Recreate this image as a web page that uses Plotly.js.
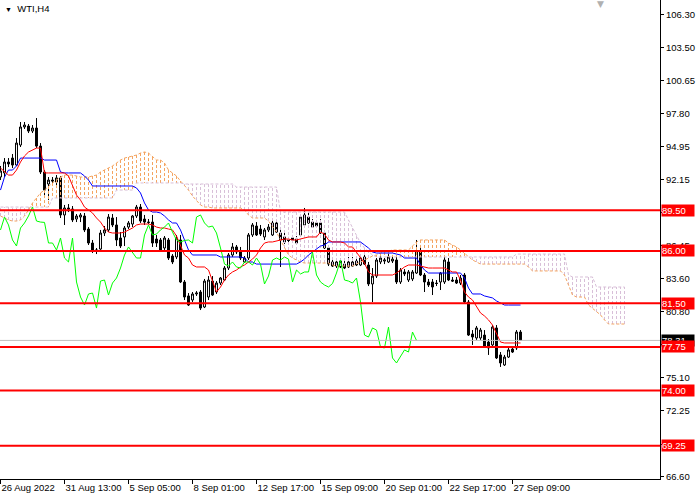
<!DOCTYPE html>
<html><head><meta charset="utf-8">
<script src="https://cdn.plot.ly/plotly-3.0.1.min.js"></script>
<style>html,body{margin:0;padding:0;background:#fff}#chart{width:700px;height:500px}</style>
</head><body><div id="chart"></div>
<script>
const open = [92.35,92.70,93.64,93.98,93.38,95.10,96.65,96.73,96.30,96.56,
95.01,92.78,91.75,92.09,91.92,92.27,89.09,89.69,89.60,88.74,
88.91,89.00,87.88,86.68,85.99,86.16,87.54,87.80,88.83,88.23,
87.11,87.20,88.05,88.31,89.00,89.77,88.74,88.48,88.48,87.02,
86.94,86.25,86.94,85.56,85.48,86.94,83.33,82.13,81.78,82.30,
82.47,81.18,82.04,83.41,82.47,83.24,83.50,84.53,85.65,86.34,
85.99,85.05,85.39,87.37,88.14,87.88,87.20,87.80,87.37,88.40,
87.54,87.20,86.94,87.11,87.02,87.37,88.23,88.91,88.48,88.40,
88.40,87.54,86.25,85.05,84.70,85.13,84.87,84.62,84.70,85.13,
84.79,85.48,84.79,83.16,83.84,85.05,85.13,85.05,85.13,85.22,
83.33,84.19,83.50,83.59,84.10,85.91,83.93,83.33,83.33,83.24,
83.33,83.33,85.05,83.50,83.50,83.24,83.93,81.61,78.86,78.52,
78.52,78.77,78.17,77.92,79.38,77.06,76.20,76.88,77.57,77.66,79.03];
const high = [93.30,93.98,93.98,94.33,95.70,97.08,97.08,96.91,96.82,97.42,
95.27,92.95,92.35,92.35,92.52,92.44,89.95,90.03,89.86,89.17,
89.26,89.26,88.05,86.94,86.25,87.80,88.14,89.17,89.17,88.91,
87.62,88.14,88.57,89.09,89.95,90.03,89.09,88.74,89.09,87.37,
87.11,87.28,87.11,85.73,87.37,87.37,83.50,82.38,82.47,82.55,
82.64,83.59,83.84,83.84,83.41,83.76,84.70,85.82,86.68,86.51,
86.34,85.56,87.54,88.40,88.48,88.23,87.97,88.31,88.66,88.66,
87.97,87.54,87.20,87.37,87.28,89.00,89.69,89.26,88.74,88.66,
88.74,87.80,86.42,85.39,85.22,85.39,85.22,85.48,85.48,85.48,
85.65,85.73,85.05,84.53,85.39,85.56,85.39,85.73,85.65,85.48,
84.53,84.44,84.36,84.36,86.94,86.51,84.10,83.59,83.59,83.50,
84.19,85.65,85.39,83.76,83.76,83.93,84.10,81.78,79.20,79.55,
79.38,79.20,78.43,79.63,79.63,77.31,77.06,77.66,77.74,79.20,79.20];
const low = [92.09,92.35,93.21,93.12,93.30,94.93,96.48,96.13,96.13,94.84,
92.61,90.80,90.37,91.75,91.66,88.83,88.23,89.34,88.48,88.48,
88.48,87.62,86.51,85.82,85.73,86.08,87.28,87.62,88.05,86.42,
86.25,86.42,87.88,88.05,88.83,88.40,88.23,88.31,86.34,86.34,
85.99,86.08,85.22,84.87,85.30,83.24,81.78,81.27,81.61,82.13,
80.92,81.09,81.78,82.13,82.30,83.07,83.41,84.36,85.48,85.73,
85.22,84.96,85.22,87.20,87.28,87.28,86.94,87.62,87.28,87.54,
84.62,86.59,86.68,86.77,86.59,87.20,88.14,88.31,87.97,88.05,
87.45,86.16,84.70,84.62,84.53,84.53,84.44,84.53,84.62,84.70,
84.70,84.79,82.98,81.61,83.67,84.87,84.87,84.96,84.96,83.16,
83.16,83.84,83.33,83.41,84.02,83.84,82.47,82.90,82.21,82.98,
82.64,83.16,83.41,83.33,83.16,83.07,81.52,78.69,77.92,78.35,
78.35,77.66,77.06,77.66,76.71,76.03,76.11,76.80,77.23,77.49,78.26];
const close = [92.87,93.64,93.47,93.38,95.27,96.65,96.82,96.30,96.56,95.01,
92.78,91.23,92.09,92.01,92.27,89.09,89.69,89.60,88.66,89.00,
89.09,87.80,86.68,85.99,86.08,87.54,87.80,88.91,88.23,86.94,
86.42,87.97,88.40,89.00,89.77,88.57,88.48,88.45,86.68,86.68,
86.08,87.11,85.39,85.05,87.11,83.33,82.04,81.35,82.30,82.38,
81.09,83.41,83.50,82.21,83.24,83.67,84.53,85.65,86.34,85.91,
85.39,85.39,87.37,88.23,87.37,87.45,87.80,88.05,88.40,87.62,
86.94,86.77,86.90,86.94,86.68,88.91,89.09,88.40,88.05,88.14,
87.54,86.25,84.87,84.70,85.05,84.62,84.53,85.05,85.05,84.79,
85.39,84.87,83.16,83.84,85.22,85.39,85.22,85.48,85.30,83.33,
84.36,84.02,84.19,84.19,85.91,83.93,83.33,83.07,82.90,83.20,
84.10,85.22,83.50,83.41,83.24,83.67,81.61,78.77,78.60,79.38,
79.20,77.74,77.66,79.46,76.80,76.37,76.88,77.49,77.31,79.03,78.31];
const tenkan = [93.12,92.78,92.52,92.52,92.95,93.64,94.16,94.50,94.67,94.84,
94.84,92.70,92.70,92.70,92.70,92.70,92.70,92.44,91.66,90.80,
90.37,89.77,89.52,89.26,88.83,88.48,87.97,87.62,87.54,87.54,
87.54,87.62,87.80,87.97,88.23,88.31,88.31,88.31,88.23,88.05,
87.97,87.97,87.88,87.80,87.28,86.42,85.65,85.39,84.79,84.62,
84.62,84.62,84.36,83.50,82.47,82.90,83.50,83.93,84.19,84.36,
84.62,84.79,85.05,85.30,85.65,86.25,86.68,86.77,86.77,86.85,
86.94,87.02,87.02,86.94,86.94,87.02,87.11,87.20,87.20,87.20,
87.62,87.45,86.94,86.77,86.77,86.77,86.68,86.34,86.34,85.91,
85.48,84.96,84.19,83.93,83.93,83.93,83.93,83.93,83.93,84.10,
84.36,84.62,84.79,84.79,84.79,84.70,84.62,84.53,84.53,84.53,
84.53,84.53,84.36,84.19,84.19,83.50,82.47,82.04,81.78,81.18,
80.67,80.41,80.07,79.63,78.95,78.17,78.09,78.09,78.09,78.09,78.09];
const kijun = [91.23,92.35,92.95,92.95,93.30,93.98,93.98,93.98,93.98,93.98,
93.98,93.81,93.81,93.81,93.81,92.78,92.70,92.70,92.70,92.70,
92.70,92.44,92.09,91.58,91.58,91.58,91.58,91.58,91.58,91.58,
91.58,91.58,91.58,91.58,91.41,90.98,90.12,89.52,89.34,89.34,
89.26,89.00,88.66,88.40,88.40,87.80,86.94,86.08,85.65,85.65,
85.65,85.65,85.65,85.65,85.65,85.48,85.48,85.48,85.48,85.48,
85.48,85.39,85.05,85.05,84.87,84.87,84.87,84.87,84.87,84.87,
84.87,84.87,84.87,84.87,84.87,85.05,85.30,85.65,85.91,86.16,
86.42,86.51,86.77,86.77,86.77,86.77,86.77,86.77,86.77,86.77,
86.77,86.51,86.25,85.91,85.82,85.82,85.82,85.82,85.82,85.73,
85.65,85.39,85.39,85.39,85.39,84.79,84.36,84.10,84.10,84.10,
84.10,84.10,84.10,84.10,84.10,84.10,83.67,82.81,82.30,82.30,
82.30,82.13,82.04,81.96,81.70,81.52,81.35,81.35,81.35,81.35,81.35];
const senkouA = [89.00,88.83,88.66,88.57,88.57,88.66,89.00,89.52,90.12,90.55,
90.98,91.23,91.58,91.84,92.09,92.35,92.52,92.52,92.52,92.44,
92.35,92.35,92.35,92.44,92.52,92.78,92.95,93.12,93.30,93.55,
93.81,93.98,94.07,94.16,94.24,94.41,94.50,94.41,94.07,93.81,
93.81,93.55,92.95,92.70,92.44,92.01,91.66,91.23,90.72,90.37,
89.95,89.77,89.77,89.69,89.69,89.69,89.69,89.69,89.69,89.69,
89.69,89.52,89.09,88.83,88.83,88.83,88.83,88.57,88.14,87.62,
86.94,86.25,85.65,85.39,85.22,85.05,84.96,84.96,84.96,84.96,
84.96,84.96,84.96,84.79,84.70,84.70,84.70,84.70,84.70,84.87,
85.05,85.22,85.39,85.56,85.65,85.82,85.91,85.99,86.08,86.08,
86.08,86.08,86.08,86.42,86.77,86.94,86.94,86.94,86.94,86.94,
86.94,86.94,86.68,86.51,86.34,86.08,85.82,85.48,85.22,85.05,
84.87,84.87,84.87,84.87,84.87,84.87,84.87,84.87,84.87,84.87,
84.87,84.87,84.62,84.28,84.28,84.28,84.28,84.28,84.28,84.28,
84.28,83.93,83.07,82.21,82.04,82.04,82.04,81.35,81.09,80.75,
80.50,80.07,79.72,79.72,79.72,79.72,79.72];
const senkouB = [89.77,89.77,89.77,89.77,89.77,89.77,89.77,89.77,89.77,89.77,
89.77,89.77,89.77,90.55,90.55,90.55,90.55,90.55,90.55,90.55,
90.55,90.55,90.55,90.55,90.55,90.55,90.55,90.55,90.55,91.23,
91.23,91.23,91.23,91.23,91.84,91.84,91.84,91.84,91.84,91.84,
91.84,91.84,91.84,91.84,91.84,91.84,91.75,91.75,91.75,91.75,
91.75,91.75,91.75,91.75,91.75,91.75,91.75,91.75,91.75,91.49,
91.49,91.49,91.49,91.49,91.49,91.49,91.49,91.49,91.49,91.49,
89.34,89.34,89.34,89.34,89.34,89.34,89.34,89.34,89.34,89.34,
89.34,89.34,89.34,89.34,89.34,89.34,89.34,88.66,87.97,87.28,
86.68,86.25,85.91,85.65,85.48,85.48,85.48,85.48,85.48,85.48,
85.48,85.48,85.48,85.48,85.48,85.48,85.48,85.48,85.48,85.48,
85.48,85.48,85.48,85.48,85.48,85.48,85.48,85.48,85.48,85.48,
85.48,85.48,85.48,85.48,85.48,85.48,85.48,85.48,85.48,85.73,
85.73,85.73,85.73,85.73,85.73,85.73,85.73,85.73,85.73,85.73,
85.73,85.73,83.93,83.76,83.76,83.76,83.76,83.76,83.76,82.90,
82.90,82.90,82.90,82.90,82.90,82.90,82.90];
const levels = [89.50, 86.00, 81.50, 77.75, 74.00, 69.25];
const lastPrice = 78.31;
const yTicks = [106.30,103.50,100.65,97.80,94.95,92.15,89.30,86.45,83.60,80.80,77.95,75.10,72.25,69.40,66.60];
const xTickIdx = [0,16,32,48,64,80,96,112,128];
const xTickLabels = ["26 Aug 2022","31 Aug 13:00","5 Sep 05:00","8 Sep 01:00","12 Sep 17:00","15 Sep 09:00","20 Sep 01:00","22 Sep 17:00","27 Sep 09:00"];
const chikouShift = 26;

const idx = close.map((_, i) => i);
const cloudIdx = senkouA.map((_, i) => i);

const upX = [], upY = [], dnX = [], dnY = [];
senkouA.forEach((a, i) => {
  const b = senkouB[i];
  if (a >= b) { upX.push(i, i, null); upY.push(a, b, null); }
  else { dnX.push(i, i, null); dnY.push(a, b, null); }
});

const ORANGE = '#F4A460', THISTLE = '#D8BFD8';
const traces = [
  {type:'candlestick', x:idx, open:open, high:high, low:low, close:close,
   increasing:{line:{color:'#000', width:1}, fillcolor:'#fff'},
   decreasing:{line:{color:'#000', width:1}, fillcolor:'#000'},
   whiskerwidth:0, hoverinfo:'skip'},
  {type:'scatter', mode:'lines', x:upX, y:upY, line:{color:ORANGE, width:1, dash:'3px,2px'}, hoverinfo:'skip', connectgaps:false},
  {type:'scatter', mode:'lines', x:dnX, y:dnY, line:{color:THISTLE, width:1, dash:'3px,2px'}, hoverinfo:'skip', connectgaps:false},
  {type:'scatter', mode:'lines', x:cloudIdx, y:senkouA, line:{color:ORANGE, width:1, dash:'3px,2px'}, hoverinfo:'skip'},
  {type:'scatter', mode:'lines', x:cloudIdx, y:senkouB, line:{color:THISTLE, width:1, dash:'3px,2px'}, hoverinfo:'skip'},
  {type:'scatter', mode:'lines', x:idx, y:kijun, line:{color:'#0000FF', width:1}, hoverinfo:'skip'},
  {type:'scatter', mode:'lines', x:idx, y:tenkan, line:{color:'#FF0000', width:1}, hoverinfo:'skip'},
  {type:'scatter', mode:'lines', x:idx.slice(chikouShift).map(i => i - chikouShift), y:close.slice(chikouShift),
   line:{color:'#00FF00', width:1}, hoverinfo:'skip'}
];

const shapes = [
  {type:'line', xref:'paper', x0:0, x1:1, yref:'y', y0:lastPrice, y1:lastPrice, line:{color:'#C0C0C0', width:1}, layer:'above'}
].concat(levels.map(lv => ({type:'line', xref:'paper', x0:0, x1:1, yref:'y', y0:lv, y1:lv,
   line:{color:'#FF0000', width:2}, layer:'above'})));

const FONT = 'Liberation Sans, Arial, sans-serif';
const annotations = [
  {xref:'paper', yref:'y', x:1, y:lastPrice, xanchor:'left', yanchor:'middle', xshift:1,
   text:lastPrice.toFixed(2), showarrow:false, bgcolor:'#000', borderpad:0, width:32, align:'left',
   font:{family:FONT, size:9.5, color:'#fff'}}
].concat(levels.map(lv => ({xref:'paper', yref:'y', x:1, y:lv, xanchor:'left', yanchor:'middle', xshift:1,
   text:lv.toFixed(2), showarrow:false, bgcolor:'#FF0000', borderpad:0, width:32, align:'left',
   font:{family:FONT, size:9.5, color:'#fff'}}))).concat([
  {xref:'paper', yref:'paper', x:0, y:1, xanchor:'left', yanchor:'top', xshift:3, yshift:-1,
   text:'<span style="font-size:7px">▼</span>  WTI,H4', showarrow:false, font:{family:FONT, size:9.5, color:'#000'}},
  {xref:'paper', yref:'paper', x:600/660, y:1, xanchor:'center', yanchor:'top', yshift:3,
   text:'▼', showarrow:false, font:{family:'DejaVu Sans', size:9, color:'#B0B0B0'}}
]);

const layout = {
  width:700, height:500,
  margin:{l:0, r:40, t:0, b:21, pad:0},
  paper_bgcolor:'#fff', plot_bgcolor:'#fff',
  showlegend:false,
  font:{family:FONT, size:9.5, color:'#000'},
  xaxis:{range:[-0.125, 164.875], rangeslider:{visible:false}, showgrid:false, zeroline:false,
    showline:true, linecolor:'#000', linewidth:1, ticks:'outside', ticklen:4, tickcolor:'#000',
    tickmode:'array', tickvals:xTickIdx, ticktext:xTickLabels, ticklabelposition:'outside right',
    tickangle:0, automargin:false, fixedrange:true},
  yaxis:{side:'right', range:[66.40, 107.563], showgrid:false, zeroline:false,
    showline:true, linecolor:'#000', linewidth:1, ticks:'outside', ticklen:3, tickcolor:'#000',
    tickmode:'array', tickvals:yTicks, ticktext:yTicks.map(v => v.toFixed(2)), automargin:false, fixedrange:true},
  shapes:shapes,
  annotations:annotations
};

Plotly.newPlot('chart', traces, layout, {staticPlot:true, displayModeBar:false});
</script>
</body></html>
